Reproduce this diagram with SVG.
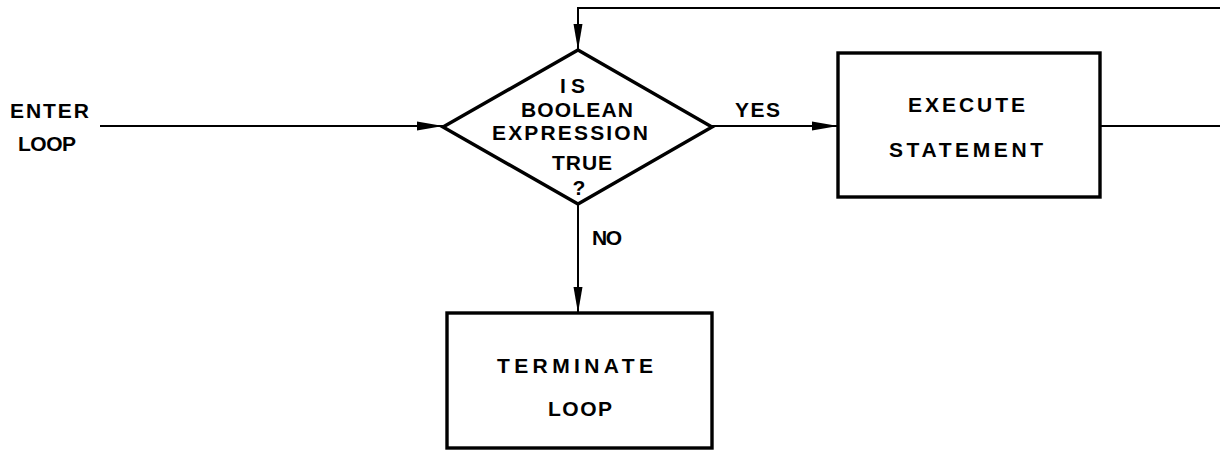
<svg xmlns="http://www.w3.org/2000/svg" width="1220" height="459" viewBox="0 0 1220 459">
<style>
.t{font-family:"Liberation Sans",Arial,sans-serif;font-weight:bold;font-size:21px;fill:#000}
.box{fill:none;stroke:#000;stroke-width:3.4}
.c{fill:none;stroke:#000;stroke-width:2}
</style>
<defs>
<marker id="ah" markerUnits="userSpaceOnUse" markerWidth="28" markerHeight="12" refX="26" refY="5" orient="auto">
<path d="M0,0.5 L26,5 L0,9.5 z" fill="#000"/>
</marker>
</defs>
<rect width="1220" height="459" fill="#fff"/>
<g id="connectors">
<path class="c" d="M100 126 H443" marker-end="url(#ah)"/>
<path class="c" d="M712 126 H838" marker-end="url(#ah)"/>
<path class="c" d="M578 204 V313" marker-end="url(#ah)"/>
<path class="c" d="M1100 126 H1232 V8 H578 V50" marker-end="url(#ah)"/>
</g>
<g id="enter">
<text class="t" x="10" y="118" textLength="79" lengthAdjust="spacing">ENTER</text>
<text class="t" x="18" y="151" textLength="58" lengthAdjust="spacing">LOOP</text>
</g>
<g id="decision">
<polygon class="box" points="578,50 712,127 578,204 443,127"/>
<text class="t" x="560" y="93" textLength="25" lengthAdjust="spacing">IS</text>
<text class="t" x="521" y="117" textLength="112" lengthAdjust="spacing">BOOLEAN</text>
<text class="t" x="492" y="140" textLength="156" lengthAdjust="spacing">EXPRESSION</text>
<text class="t" x="552" y="170" textLength="60" lengthAdjust="spacing">TRUE</text>
<text class="t" x="579" y="195" text-anchor="middle">?</text>
</g>
<g id="labels">
<text class="t" x="735" y="117" textLength="45" lengthAdjust="spacing">YES</text>
<text class="t" x="592" y="245" textLength="30" lengthAdjust="spacing">NO</text>
</g>
<g id="execute">
<rect class="box" x="838" y="53" width="262" height="144"/>
<text class="t" x="908" y="112" textLength="117" lengthAdjust="spacing">EXECUTE</text>
<text class="t" x="889" y="157" textLength="154" lengthAdjust="spacing">STATEMENT</text>
</g>
<g id="terminate">
<rect class="box" x="447" y="313" width="265" height="135"/>
<text class="t" x="497" y="373" textLength="156" lengthAdjust="spacing">TERMINATE</text>
<text class="t" x="548" y="416" textLength="64" lengthAdjust="spacing">LOOP</text>
</g>
</svg>
